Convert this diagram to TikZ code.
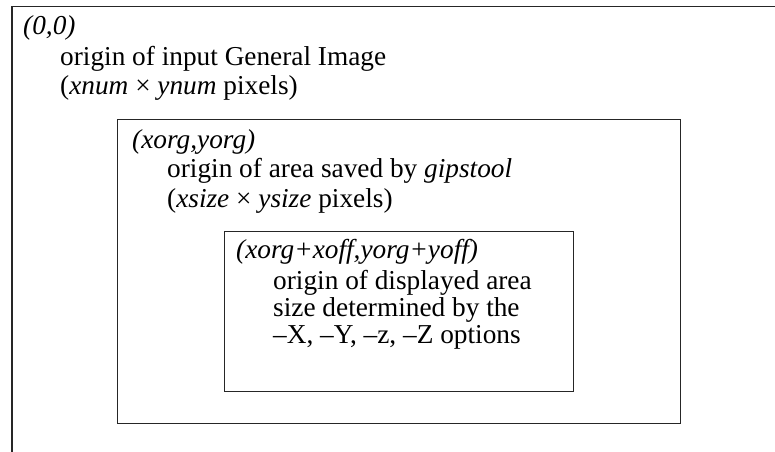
\documentclass[tikz,border=0pt]{standalone}
\usepackage{fontspec}
\setmainfont{Liberation Serif}
\begin{document}
\begin{tikzpicture}[x=1pt,y=-1pt,
  frame/.style={draw=black!85,line width=1.1pt},
  lbl/.style={anchor=base west,inner sep=0pt,font=\fontsize{27.3}{29}\selectfont}]
\useasboundingbox (0,0) rectangle (775,451);
\begin{scope}
\clip (0,0) rectangle (775,451);
\coordinate (otl) at (12,6.5);
\coordinate (otr) at (790,6.5);
\coordinate (obl) at (12,470);
\draw[frame] (otr) -- (otl) -- (obl);
\end{scope}
\node[frame,draw,minimum width=563pt,minimum height=304pt,anchor=north west,inner sep=0pt] (mid) at (117,119) {};
\node[frame,draw,minimum width=349pt,minimum height=160pt,anchor=north west,inner sep=0pt] (inn) at (224,231) {};
% outer texts
\node[lbl] (o1) at (23,34) {\itshape (0,0)};
\node[lbl] (o2) at (60,65) {origin of input General Image};
\node[lbl] (o3) at (60,94) {(\textit{xnum} × \textit{ynum} pixels)};
% middle texts
\node[lbl] (m1) at (132,148) {\itshape (xorg,yorg)};
\node[lbl] (m2) at (167,177) {origin of area saved by \textit{gipstool}};
\node[lbl] (m3) at (167,207) {(\textit{xsize} × \textit{ysize} pixels)};
% inner texts
\node[lbl] (i1) at (236,258) {\itshape (xorg+xoff,yorg+yoff)};
\node[lbl] (i2) at (273,289) {origin of displayed area};
\node[lbl] (i3) at (273,316) {size determined by the};
\node[lbl] (i4) at (273,343) {–X, –Y, –z, –Z options};
\end{tikzpicture}
\end{document}
